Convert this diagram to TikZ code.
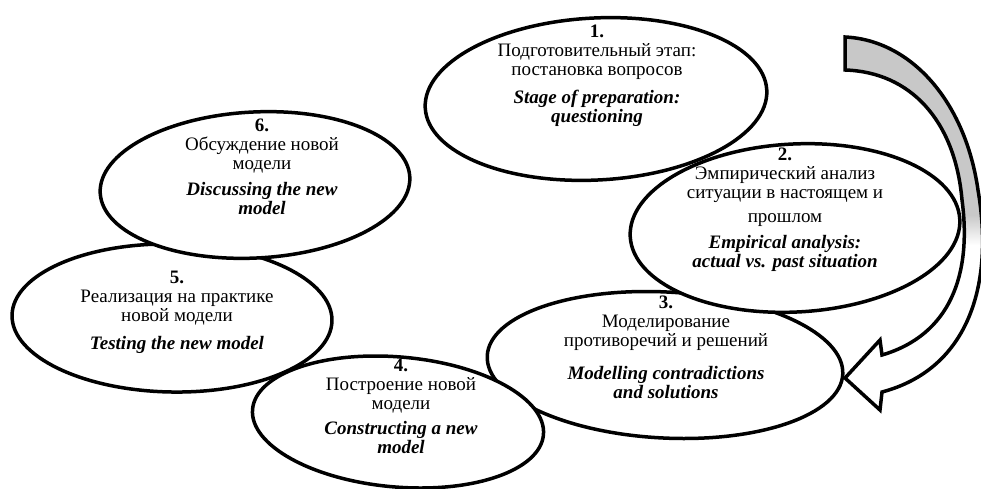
\documentclass[tikz,border=0pt]{standalone}
\usepackage{fontspec}
\setmainfont{Liberation Serif}
\usetikzlibrary{shapes.geometric}
\definecolor{arrowgray}{RGB}{200,200,200}
\tikzset{
  stage/.style={ellipse, draw=black, fill=white, line width=3.5pt, inner sep=0pt},
  stagetext/.style={align=center, font=\fontsize{19}{19}\selectfont, inner sep=0pt},
}
\newcommand{\engl}[1]{\textbf{\textit{#1}}}
\def\arrowpathA{(845,37) .. controls (910,40) and (965,100) .. (978,190) .. controls (995,290) and (965,370) .. (882,392) -- (880,410) -- (845,378) -- (880,340) -- (882,355) .. controls (950,335) and (972,275) .. (962,200) .. controls (955,120) and (910,72) .. (845,70) -- cycle}
\begin{document}
\begin{tikzpicture}[x=1pt,y=-1pt]
\useasboundingbox[fill=white] (0,0) rectangle (981,489);
% ellipses (back to front)
\node[stage, minimum width=342pt, minimum height=162pt, rotate=3] (e1) at (596,99) {};
\node[stage, minimum width=356pt, minimum height=146pt, rotate=-3] (e3) at (665,365) {};
% curved block arrow
\fill[white] \arrowpathA;
\begin{scope}
  \clip \arrowpathA;
  \fill[arrowgray] (830,20) rectangle (1000,215);
  \shade[top color=arrowgray, bottom color=white] (830,215) rectangle (1000,245);
\end{scope}
\draw[line width=3.5pt, line join=miter] \arrowpathA;
\node[stage, minimum width=330pt, minimum height=168pt, rotate=3] (e2) at (795,228) {};
\node[stage, minimum width=320pt, minimum height=148pt, rotate=-1] (e5) at (172,318) {};
\node[stage, minimum width=310pt, minimum height=146pt, rotate=3] (e6) at (255,185) {};
\node[stage, minimum width=292pt, minimum height=130pt, rotate=-5] (e4) at (398,422) {};
% texts
\node[stagetext] (t1) at (597,76) {\textbf{1.}\\ Подготовительный этап:\\ постановка вопросов\\[9pt] \engl{Stage of preparation:}\\ \engl{questioning}};
\node[stagetext] (t2) at (785,210) {\textbf{2.}\\ Эмпирический анализ\\ ситуации в настоящем и\\[5pt] прошлом\\[7pt] \engl{Empirical analysis:}\\ \engl{actual vs. past situation}};
\node[stagetext] (t3) at (666,347) {\textbf{3.}\\ Моделирование\\ противоречий и решений\\[14pt] \engl{Modelling contradictions}\\ \engl{and solutions}};
\node[stagetext] (t4) at (401,406) {\textbf{4.}\\ Построение новой\\ модели\\[6pt] \engl{Constructing a new}\\ \engl{model}};
\node[stagetext] (t5) at (177,312) {\textbf{5.}\\ Реализация на практике\\ новой модели\\[9pt] \engl{Testing the new model}};
\node[stagetext] (t6) at (262,167) {\textbf{6.}\\ Обсуждение новой\\ модели\\[7pt] \engl{Discussing the new}\\ \engl{model}};
\end{tikzpicture}
\end{document}
